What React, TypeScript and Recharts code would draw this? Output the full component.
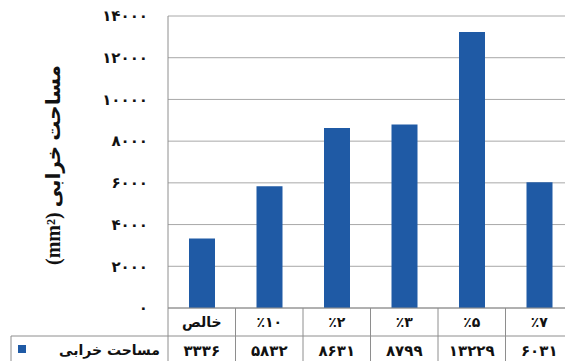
import { Bar, BarChart, CartesianGrid, XAxis, YAxis } from "recharts";

const categories = ["خالص", "٪۱۰", "٪۲", "٪۳", "٪۵", "٪۷"];
const damageArea = [3336, 5832, 8631, 8799, 13229, 6031];
const yTicks = [0, 2000, 4000, 6000, 8000, 10000, 12000, 14000];
const seriesName = "مساحت خرابی";

const CHART_W = 580;
const CHART_H = 361;
const MARGIN = { top: 16, right: 7, bottom: 0, left: 0 };
const Y_AXIS_W = 168;
const X_AXIS_H = 53;
const BAR_COLOR = "#1f5aa5";
const LINE_COLOR = "#8e8e8e";
const FA_FONT = "'DejaVu Sans', sans-serif";

const plotBottom = CHART_H - MARGIN.bottom - X_AXIS_H;
const cellW = (CHART_W - Y_AXIS_W - MARGIN.left - MARGIN.right) / categories.length;
const rowSplit = plotBottom + 28;
const tableBottom = CHART_H + 4;

const toPersian = (v: number | string) =>
  String(v).replace(/\d/g, (d) => "۰۱۲۳۴۵۶۷۸۹"[Number(d)]);

const data = categories.map((name, i) => ({ name, value: damageArea[i] }));

// Each x tick draws its own column of the data table under the plot.
function TableTick(props: any) {
  const { x, index, payload } = props;
  const left = x - cellW / 2;
  const right = x + cellW / 2;
  return (
    <g>
      {index === 0 && (
        <g>
          <line x1={left} y1={plotBottom} x2={left} y2={tableBottom} stroke={LINE_COLOR} />
          <line x1={11} y1={rowSplit} x2={left} y2={rowSplit} stroke={LINE_COLOR} />
          <line x1={11} y1={rowSplit} x2={11} y2={tableBottom} stroke={LINE_COLOR} />
          <rect x={18} y={rowSplit + 9} width={8} height={8} fill={BAR_COLOR} />
          <text
            x={left - 8}
            y={rowSplit + 19}
            textAnchor="end"
            fontFamily={FA_FONT}
            fontWeight="bold"
            fontSize={14}
            fill="#111"
          >
            {seriesName}
          </text>
        </g>
      )}
      <line x1={left} y1={rowSplit} x2={right} y2={rowSplit} stroke={LINE_COLOR} />
      <line x1={right} y1={plotBottom} x2={right} y2={tableBottom} stroke={LINE_COLOR} />
      <text
        x={x}
        y={plotBottom + 19}
        textAnchor="middle"
        fontFamily={FA_FONT}
        fontWeight="bold"
        fontSize={14}
        fill="#111"
      >
        {payload.value}
      </text>
      <text
        x={x}
        y={rowSplit + 20}
        textAnchor="middle"
        fontFamily={FA_FONT}
        fontWeight="bold"
        fontSize={15}
        fill="#111"
      >
        {toPersian(damageArea[index])}
      </text>
    </g>
  );
}

function YLabel() {
  const cx = 60;
  const cy = 165;
  return (
    <text
      x={cx}
      y={cy}
      transform={`rotate(-90, ${cx}, ${cy})`}
      textAnchor="middle"
      direction="rtl"
      fontFamily="'Liberation Serif', 'DejaVu Sans', serif"
      fontWeight="bold"
      fontSize={20}
      fill="#111"
    >
      مساحت خرابی (mm²)
    </text>
  );
}

export default function App() {
  return (
    <div style={{ position: "absolute", left: 0, top: 0, background: "#fff" }}>
      <BarChart width={CHART_W} height={CHART_H} data={data} margin={MARGIN}>
        <CartesianGrid vertical={false} stroke="#a8a8a8" />
        <XAxis
          dataKey="name"
          height={X_AXIS_H}
          axisLine={{ stroke: LINE_COLOR }}
          tickLine={false}
          interval={0}
          tick={<TableTick />}
        />
        <YAxis
          width={Y_AXIS_W}
          domain={[0, 14000]}
          ticks={yTicks}
          axisLine={{ stroke: LINE_COLOR }}
          tickLine={false}
          tickSize={0}
          tickMargin={20}
          tickFormatter={(v: number) => toPersian(v)}
          tick={{ fontFamily: FA_FONT, fontWeight: "bold", fontSize: 15, fill: "#111" }}
        />
        <Bar dataKey="value" fill={BAR_COLOR} barSize={26} isAnimationActive={false} />
        <YLabel />
      </BarChart>
    </div>
  );
}
